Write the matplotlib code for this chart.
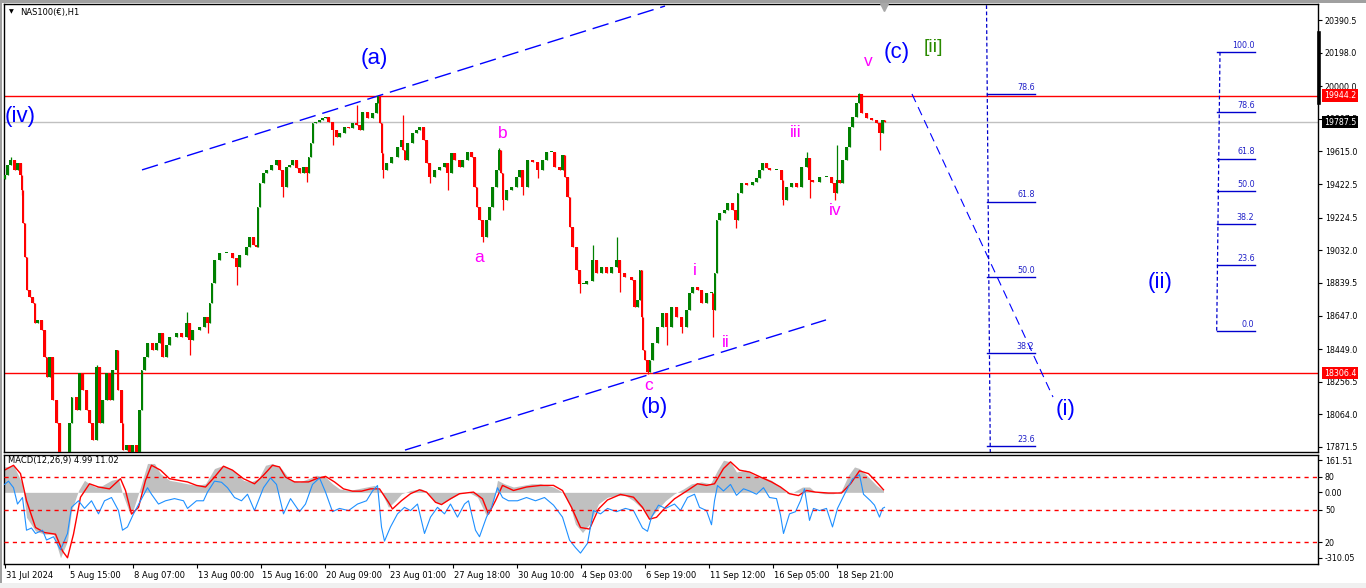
import numpy as np
import matplotlib
matplotlib.use('Agg')
import matplotlib.pyplot as plt
import matplotlib.transforms as mtransforms
from matplotlib.lines import Line2D
from matplotlib.patches import Rectangle

# ---- price data (hourly bars, traced: bar index, close) ----
first_open = 19450
candles = [(0,19476),(3,19535),(6,19564),(10,19505),(13,19547),(16,19476),(17,19387),(18,19193),
    (20,18992),(22,18797),(25,18756),(28,18721),(30,18603),(33,18620),(37,18561),(40,18402),(42,18284),
    (45,18402),(48,18149),(52,18013),(55,17842),(58,17795),(61,17735),(65,18013),(67,18166),(72,18090),
    (75,18308),(78,18207),(82,18090),(85,18013),(88,17913),(92,18343),(95,18013),(98,18149),(102,18308),
    (105,18149),(108,18325),(112,18443),(113,18208),(117,18013),(118,17853),(122,17883),(125,17824),
    (128,17883),(132,17824),(135,18090),(137,18325),(140,18402),(143,18485),(148,18443),(152,18485),
    (155,18544),(158,18402),(162,18473),(165,18520),(172,18544),(177,18520),(182,18603),(185,18502),
    (188,18562),(195,18579),(200,18638),(203,18603),(205,18721),(207,18839),(210,18975),(215,19016),
    (222,19016),(228,18986),(232,18933),(235,19004),(242,19051),(245,19110),(249,19063),(252,19051),
    (253,19287),(255,19427),(259,19488),(262,19505),(267,19535),(272,19564),(275,19505),(278,19405),
    (282,19523),(285,19535),(288,19564),(292,19517),(295,19488),(299,19523),(302,19488),(304,19582),
    (306,19665),(308,19783),(311,19789),(315,19801),(318,19812),(321,19818),(324,19789),(328,19741),
    (332,19700),(335,19724),(340,19759),(344,19753),(348,19783),(352,19771),(355,19741),(358,19848),
    (363,19812),(368,19842),(372,19901),(373,19942),(375,19783),(377,19606),(378,19505),(382,19547),
    (387,19582),(393,19641),(397,19682),(398,19623),(400,19564),(403,19665),(408,19724),(412,19741),
    (415,19759),(419,19682),(422,19547),(425,19464),(430,19505),(435,19523),(440,19547),(443,19488),
    (447,19606),(450,19564),(455,19523),(458,19564),(463,19612),(467,19582),(470,19405),(472,19287),
    (475,19208),(478,19110),(482,19208),(485,19287),(488,19405),(492,19505),(494,19623),(496,19488),
    (498,19328),(502,19387),(507,19405),(512,19464),(515,19505),(518,19405),(523,19564),(528,19553),
    (533,19505),(538,19564),(542,19612),(547,19612),(550,19523),(555,19505),(558,19594),(560,19464),
    (563,19346),(565,19169),(568,19051),(572,18913),(575,18835),(579,18835),(582,18852),(588,18974),
    (592,18898),(597,18933),(602,18898),(607,18933),(612,18974),(615,18898),(620,18874),(627,18856),
    (630,18697),(633,18738),(635,18916),(637,18638),(638,18444),(640,18384),(643,18314),(645,18384),
    (648,18485),(653,18579),(658,18662),(662,18579),(667,18697),(672,18638),(677,18579),(682,18679),
    (685,18780),(688,18815),(693,18797),(697,18721),(702,18780),(707,18780),(708,18679),(710,18898),
    (712,19208),(715,19252),(720,19269),(723,19311),(728,19269),(731,19208),(733,19370),(737,19429),
    (742,19417),(748,19435),(752,19458),(755,19505),(758,19547),(762,19517),(765,19505),(772,19505),
    (777,19446),(778,19328),(782,19405),(787,19429),(792,19405),(797,19523),(802,19576),(805,19446),
    (808,19435),(815,19464),(822,19464),(827,19429),(830,19370),(832,19446),(835,19429),(838,19564),
    (842,19641),(845,19759),(848,19818),(852,19901),(854,19954),(857,19842),(862,19812),(867,19801),
    (872,19783),(875,19724),(878,19801),(880,19787.5)]
# long wicks (bar, extreme price)
spikes = [(6,19582),(17,19357),(92,18355),(182,18667),(185,18414),(203,18544),(232,18827),
    (278,19346),(302,19435),(328,19653),(352,19889),(378,19458),(398,19830),(425,19429),(443,19387),
    (478,19081),(494,19635),(498,19269),(518,19358),(533,19458),(575,18780),(588,19063),(612,19110),
    (615,18786),(643,18302),(662,18473),(677,18544),(708,18520),(731,19163),(778,19299),(802,19612),
    (805,19340),(830,19328),(832,19653),(854,19960),(875,19623)]

price_ticks = [20390.5, 20198.0, 20000.0, 19807.5, 19615.0, 19422.5, 19224.5, 19032.0,
               18839.5, 18647.0, 18449.0, 18256.5, 18064.0, 17871.5]
high_line = 19944.2
low_line = 18306.4
bid = 19787.5

date_bars = [0, 64, 128, 192, 256, 320, 384, 448, 512, 576, 640, 704, 768, 832]
date_labels = ['31 Jul 2024', '5 Aug 15:00', '8 Aug 07:00', '13 Aug 00:00', '15 Aug 16:00',
               '20 Aug 09:00', '23 Aug 01:00', '27 Aug 18:00', '30 Aug 10:00', '4 Sep 03:00',
               '6 Sep 19:00', '11 Sep 12:00', '16 Sep 05:00', '18 Sep 21:00']

# channel / trend lines (bar, price)
upper_channel = [(137.5, 19506), (660.5, 20473)]
lower_channel = [(400.5, 17853), (821.5, 18621)]
wave_i_line = [(907.5, 19954), (1048.5, 18166)]

# fib retracements
fib_ratios_1 = [0.786, 0.618, 0.5, 0.382, 0.236]
fib1_low, fib1_high = 16986, 20762
fib_ratios_2 = [1.0, 0.786, 0.618, 0.5, 0.382, 0.236, 0.0]
fib2_low, fib2_high = 18556, 20202

# wave labels (text, bar, price)
blue_labels = [('(a)', 370, 20166), ('(iv)', 16, 19824), ('(b)', 650, 18107), ('(c)', 892, 20196),
               ('(i)', 1061, 18095), ('(ii)', 1156, 18839)]
pink_labels = [('a', 475, 18992), ('b', 498, 19718), ('c', 644, 18237), ('i', 690, 18915),
               ('ii', 721, 18485), ('iii', 791, 19724), ('iv', 831, 19264), ('v', 864, 20143)]
green_labels = [('[ii]', 929, 20231)]

# ---- MACD panel ----
macd_hist = [(0,110),(9,117),(18,37),(22,-108),(31,-167),(40,-181),(49,-181),(56,-283),(63,-210),
    (67,-79),(74,8),(80,52),(85,37),(91,23),(98,30),(107,52),(114,59),(118,-6),(125,-87),(129,-72),
    (136,23),(143,125),(150,125),(156,81),(165,52),(174,45),(183,37),(192,30),(201,37),(210,103),
    (219,117),(228,96),(239,52),(246,45),(254,59),(261,117),(268,125),(277,103),(286,52),(295,45),
    (304,59),(312,74),(321,66),(328,37),(335,15),(344,8),(353,15),(362,23),(370,30),(377,1),(384,-65),
    (391,-36),(397,-6),(406,8),(417,15),(424,-6),(431,-43),(437,-50),(446,-28),(455,-6),(464,1),
    (473,-21),(482,-101),(489,-36),(493,52),(500,37),(509,23),(518,30),(527,37),(536,37),(549,23),
    (558,1),(565,-50),(571,-138),(578,-174),(585,-138),(594,-50),(603,-21),(612,-14),(621,-14),
    (629,-36),(638,-72),(645,-116),(652,-79),(661,-36),(670,-6),(679,15),(687,37),(697,45),(706,37),
    (713,96),(719,139),(726,132),(732,88),(741,96),(750,74),(759,66),(767,52),(776,23),(783,-6),
    (789,1),(798,23),(805,23),(811,1),(820,-6),(829,-6),(837,8),(844,74),(850,110),(855,103),
    (864,66),(872,30),(879,8)]
macd_signal = [(0,96),(9,117),(16,81),(22,-36),(31,-152),(40,-174),(51,-181),(58,-254),(63,-283),
    (69,-181),(76,-21),(85,37),(94,23),(105,15),(116,59),(121,8),(127,-94),(134,-65),(141,52),
    (147,117),(156,96),(165,59),(174,52),(183,45),(192,30),(201,23),(210,66),(219,113),(228,96),
    (239,59),(250,37),(259,74),(268,117),(275,110),(281,66),(290,45),(304,45),(312,59),(321,69),
    (330,45),(339,15),(348,5),(357,5),(366,15),(375,15),(384,-43),(388,-72),(397,-36),(406,-6),
    (415,11),(422,1),(431,-43),(437,-53),(446,-28),(455,-6),(469,1),(478,-28),(484,-94),(491,-36),
    (498,30),(509,8),(522,23),(536,30),(549,30),(558,8),(567,-65),(576,-152),(585,-159),(594,-72),
    (603,-33),(616,-9),(629,-21),(638,-65),(645,-116),(652,-108),(661,-65),(670,-28),(683,8),
    (693,37),(702,30),(710,37),(719,103),(726,132),(735,96),(745,88),(756,66),(767,45),(776,23),
    (785,-6),(794,-14),(802,8),(811,1),(824,-3),(837,-3),(846,37),(855,93),(864,81),(872,45),(879,11)]
osc = [(0,73),(4,76),(9,70),(13,55),(18,61),(22,31),(27,33),(31,28),(38,31),(42,22),(49,25),(56,13),
    (63,28),(67,52),(74,58),(80,51),(87,58),(94,46),(100,58),(107,61),(114,49),(118,31),(123,34),
    (129,46),(136,58),(143,70),(147,64),(154,55),(161,58),(170,60),(179,58),(183,51),(192,58),
    (199,58),(203,66),(210,76),(217,75),(223,70),(230,61),(237,58),(243,64),(250,49),(259,70),
    (266,79),(272,73),(279,46),(286,60),(295,48),(301,55),(308,73),(315,79),(321,66),(328,48),
    (335,51),(344,49),(353,55),(362,58),(368,67),(373,72),(377,34),(380,21),(386,34),(393,46),
    (400,52),(406,49),(413,55),(420,28),(426,43),(433,52),(440,46),(446,55),(453,43),(460,55),
    (464,58),(471,31),(475,25),(482,43),(487,52),(493,70),(498,61),(504,58),(513,58),(522,61),
    (531,58),(540,61),(549,54),(558,43),(565,22),(571,15),(576,10),(583,19),(589,49),(596,46),
    (603,51),(612,48),(621,51),(629,49),(638,33),(643,30),(647,43),(654,54),(661,51),(670,55),
    (676,49),(683,61),(690,64),(695,52),(702,49),(707,36),(710,58),(713,72),(719,67),(726,73),
    (732,63),(739,69),(745,67),(752,64),(759,70),(765,61),(772,60),(776,45),(779,28),(785,46),
    (791,48),(796,58),(800,69),(805,40),(809,51),(815,49),(822,51),(828,34),(833,51),(840,64),
    (848,78),(855,82),(859,64),(866,58),(870,54),(875,43),(878,51),(880,52)]
macd_top, macd_bottom = 161.51, -310.05
osc_levels = [80, 50, 20]

W, H = 1366, 588
fig = plt.figure(figsize=(W / 100, H / 100), dpi=100)
fig.patch.set_facecolor('white')
small = 'DejaVu Sans'
wave_font = 'Liberation Sans'


def px_axes(l, t, r, b):
    return fig.add_axes([l / W, 1 - b / H, (r - l) / W, (b - t) / H])


def shift_right(labels, px):
    off = mtransforms.ScaledTranslation(px / 100, 0, fig.dpi_scale_trans)
    for lb in labels:
        lb.set_transform(lb.get_transform() + off)


# frame strips like the terminal window
fig.add_artist(Rectangle((0, 1 - 3 / H), 1, 3 / H, transform=fig.transFigure, color='#a0a0a0', lw=0))
fig.add_artist(Rectangle((0, 0), 2 / W, 1, transform=fig.transFigure, color='#a0a0a0', lw=0))
fig.add_artist(Rectangle((0, 0), 1, 5 / H, transform=fig.transFigure, color='#f0f0f0', lw=0))

# ---------------- main price panel ----------------
ax = px_axes(4, 4, 1318, 452)
ax.set_xlim(-0.5, 1313.5)
ax.set_ylim(17841.7, 20484.9)
for s in ax.spines.values():
    s.set_color('black')
    s.set_linewidth(1)
ax.tick_params(axis='x', bottom=False, labelbottom=False)
ax.yaxis.tick_right()
ax.set_yticks(price_ticks)
ax.set_yticklabels(['%.1f' % p for p in price_ticks], family=small, fontsize=5.7)
ax.tick_params(axis='y', direction='out', length=3, width=0.8, pad=2, colors='black')

ax.axhline(high_line, color='red', lw=1, zorder=1)
ax.axhline(low_line, color='red', lw=1, zorder=1)
ax.axhline(bid, color='#c0c0c0', lw=1, zorder=1)

cb = np.array([c[0] for c in candles], float)
cc = np.array([c[1] for c in candles], float)
co = np.concatenate([[first_open], cc[:-1]])
gap = np.diff(np.concatenate([[cb[0] - 3], cb]))
hi = np.maximum(co, cc)
lo = np.minimum(co, cc)
for b, p in spikes:
    i = int(np.where(cb == b)[0][0])
    hi[i] = max(hi[i], p)
    lo[i] = min(lo[i], p)
cols = np.where(cc >= co, '#008000', '#ff0000')
ax.vlines(cb, lo, hi, colors=cols, lw=0.9, zorder=3)
ax.bar(cb, np.where(np.abs(cc - co) < 4, 4, cc - co), bottom=co,
       width=np.minimum(gap * 0.75, 2.6), color=cols, lw=0, zorder=3)

for line in (upper_channel, lower_channel):
    ax.plot([line[0][0], line[1][0]], [line[0][1], line[1][1]], color='#0000ff', lw=1,
            ls=(0, (12, 5)), zorder=2)
ax.plot([wave_i_line[0][0], wave_i_line[1][0]], [wave_i_line[0][1], wave_i_line[1][1]],
        color='#0000ff', lw=0.8, ls=(0, (8, 5)), zorder=2)

# fib 1
fib_col = '#0000cd'
ax.plot([981.6, 987.0], [fib1_high, fib1_low], color=fib_col, lw=0.9, ls=(0, (3, 2)))
for r in fib_ratios_1:
    p = fib1_low + r * (fib1_high - fib1_low)
    ax.plot([982.5, 1030.5], [p, p], color=fib_col, lw=1)
    ax.text(1030, p + 12, '%.1f' % (r * 100), ha='right', va='bottom', fontsize=5.8,
            family=small, color='#2020c8')
# fib 2
ax.plot([1215.5, 1212.2], [fib2_high, fib2_low], color=fib_col, lw=0.9, ls=(0, (3, 2)))
for r in fib_ratios_2:
    p = fib2_low + r * (fib2_high - fib2_low)
    ax.plot([1212.5, 1250.5], [p, p], color=fib_col, lw=1)
    ax.text(1250, p + 12, '%.1f' % (r * 100), ha='right', va='bottom', fontsize=5.8,
            family=small, color='#2020c8')

for t, b, p in blue_labels:
    ax.text(b, p, t, ha='center', va='center', fontsize=16, family=wave_font, color='#0000ff')
for t, b, p in pink_labels:
    ax.text(b, p, t, ha='center', va='center', fontsize=12.5, family=wave_font, color='#ff00ff')
for t, b, p in green_labels:
    ax.text(b, p, t, ha='center', va='center', fontsize=14, family=wave_font, color='#2a8a00')

# price boxes on the right scale
for val, fc in ((high_line, '#ff0000'), (bid, '#000000'), (low_line, '#ff0000')):
    ax.text(1.0045, val, '%.1f' % val, transform=ax.get_yaxis_transform(), ha='left',
            va='center', fontsize=5.7, family=small, color='white', clip_on=False, zorder=6,
            bbox=dict(boxstyle='square,pad=0.22', fc=fc, ec='none'))

fig.text(9 / W, 1 - 12 / H, '\u25bc', fontsize=4.5, va='center', family=small)
fig.text(20 / W, 1 - 12 / H, 'NAS100(\u20ac),H1', fontsize=6, va='center', family=small)
fig.add_artist(Line2D([884 / W], [1 - 7 / H], marker='v', ms=6, color='#a8a8a8',
                      transform=fig.transFigure))
fig.add_artist(Line2D([1318.5 / W] * 2, [1 - 33 / H, 1 - 103 / H], lw=2.6, color='black',
                      transform=fig.transFigure))

# ---------------- MACD panel ----------------
mx = px_axes(4, 455, 1318, 564)
mx.set_xlim(-0.5, 1313.5)
mx.set_ylim(macd_bottom, macd_top)
mo = mx.twinx()
mo.set_ylim(0, 100)
for s in mx.spines.values():
    s.set_color('black')
    s.set_linewidth(1)
for s in mo.spines.values():
    s.set_visible(False)

hb = [h[0] for h in macd_hist]
hv = [h[1] for h in macd_hist]
mx.fill_between(hb, 0, hv, color='#c0c0c0', lw=0)
mx.plot([s[0] for s in macd_signal], [s[1] for s in macd_signal], color='red', lw=1)
mx.yaxis.tick_right()
mx.set_yticks([macd_top - 5 * 4.33, 0, macd_bottom + 6 * 4.33])
mx.set_yticklabels(['%.2f' % macd_top, '0.00', '%.2f' % macd_bottom], family=small, fontsize=5.7)
mx.tick_params(axis='y', direction='out', length=3, width=0.8, pad=2, left=False,
               labelleft=False, right=True, labelright=True)
mx.set_xticks(date_bars)
mx.set_xticklabels(date_labels, family=small, fontsize=6)
mx.tick_params(axis='x', direction='out', length=3, width=0.8, pad=2)
for lb in mx.get_xticklabels():
    lb.set_ha('left')
shift_right(mx.get_xticklabels(), 2)

mo.plot([o[0] for o in osc], [o[1] for o in osc], color='#1e90ff', lw=0.8)
for lv in osc_levels:
    mo.axhline(lv, color='red', lw=1, ls=(0, (3, 3)))
mo.set_yticks(osc_levels)
mo.set_yticklabels([str(l) for l in osc_levels], family=small, fontsize=5.7)
mo.tick_params(axis='y', direction='out', length=3, width=0.8, pad=2)

fig.text(8 / W, 1 - 461 / H, 'MACD(12,26,9) 4.99 11.02', fontsize=6, va='center', family=small)

fig.savefig('out.png', dpi=100, facecolor='white')
